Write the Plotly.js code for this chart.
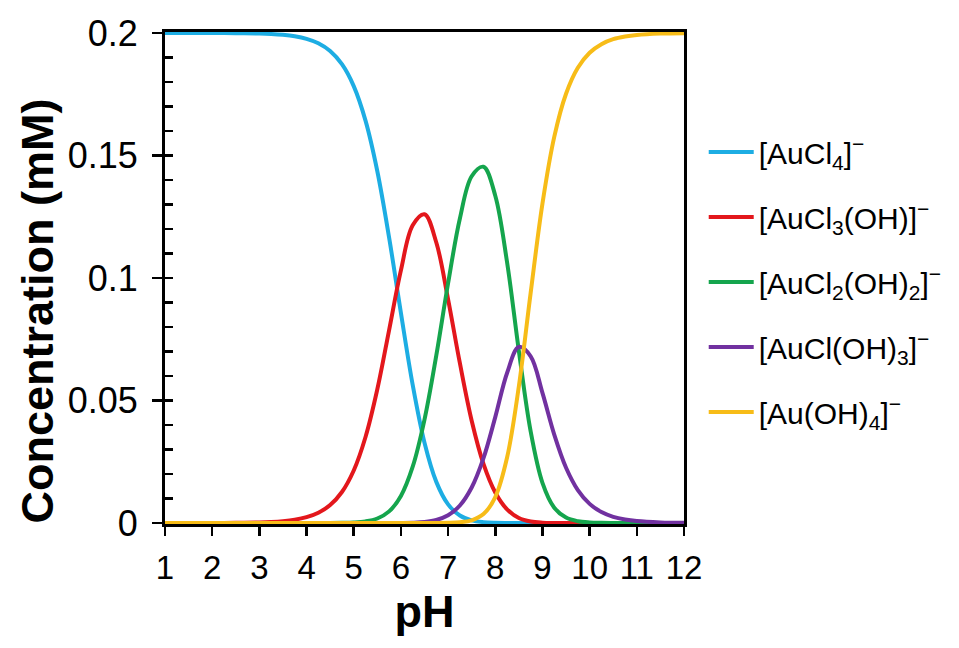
<!DOCTYPE html>
<html><head><meta charset="utf-8">
<script src="https://cdn.plot.ly/plotly-3.0.1.min.js"></script>
<style>body{margin:0;background:#fff;} #chart{width:959px;height:648px;}</style>
</head><body><div id="chart"></div>
<script>
const pH = [1,1.5,2,2.5,3,3.25,3.5,3.75,4,4.25,4.5,4.75,5,5.25,5.5,5.75,6,6.25,6.5,6.75,7,7.25,7.5,7.75,8,8.25,8.5,8.75,9,9.25,9.5,9.75,10,10.25,10.5,10.75,11,11.5,12];
const auCl4 = [0.2,0.19999,0.19998,0.19992,0.19976,0.19957,0.19924,0.19866,0.19762,0.19581,0.19265,0.18726,0.17833,0.16422,0.14357,0.11649,0.08578,0.05637,0.03277,0.01679,0.0076,0.00305,0.0011,0.00036,0.0001,0.00003,0,0,0,0,0,0,0,0,0,0,0,0,0];
const auCl3OH = [0,0.00001,0.00002,0.00008,0.00024,0.00043,0.00076,0.00134,0.00238,0.00419,0.00733,0.01266,0.02144,0.03511,0.05458,0.07876,0.10313,0.1215,0.126,0.1145,0.09131,0.06522,0.04177,0.02413,0.01247,0.00559,0.00207,0.00062,0.00015,0.00003,0.00001,0,0,0,0,0,0,0,0];
const auCl2OH2 = [0,0,0,0,0,0,0,0,0,0.00001,0.00002,0.00008,0.00023,0.00067,0.00185,0.00475,0.01105,0.02297,0.04221,0.06841,0.09785,0.12427,0.14153,0.1454,0.13359,0.10642,0.07024,0.0374,0.01641,0.00627,0.00221,0.00074,0.00024,0.00008,0.00003,0.00001,0,0,0];
const auClOH3 = [0,0,0,0,0,0,0,0,0,0,0,0,0,0,0,0.00001,0.00004,0.00013,0.00043,0.00125,0.00317,0.00715,0.01448,0.02646,0.04323,0.06124,0.07188,0.06805,0.0531,0.0361,0.02257,0.01346,0.00782,0.00448,0.00254,0.00144,0.00081,0.00026,0.00008];
const auOH4 = [0,0,0,0,0,0,0,0,0,0,0,0,0,0,0,0,0,0,0,0.00002,0.00008,0.00031,0.00112,0.00365,0.01061,0.02673,0.0558,0.09393,0.13034,0.15759,0.17522,0.1858,0.19194,0.19544,0.19746,0.19856,0.19919,0.19974,0.19992];

const seriesNames = ['[AuCl<sub>4</sub>]<sup>−</sup>','[AuCl<sub>3</sub>(OH)]<sup>−</sup>','[AuCl<sub>2</sub>(OH)<sub>2</sub>]<sup>−</sup>','[AuCl(OH)<sub>3</sub>]<sup>−</sup>','[Au(OH)<sub>4</sub>]<sup>−</sup>'];
const seriesColors = ['#1DADE3','#E3171C','#15A54D','#7131A0','#F7BC18'];
const seriesData = [auCl4, auCl3OH, auCl2OH2, auClOH3, auOH4];

const traces = seriesData.map((y, i) => ({
  x: pH, y: y, type: 'scatter', mode: 'lines', name: seriesNames[i],
  legendgroup: 'g' + i,
  line: {color: seriesColors[i], width: 4, shape: 'spline', smoothing: 1}
}));

const font = 'Liberation Sans, Arial, sans-serif';
const layout = {
  width: 959, height: 648,
  margin: {l: 165, r: 272, t: 32, b: 124},
  paper_bgcolor: '#fff', plot_bgcolor: '#fff',
  font: {family: font, color: '#000'},
  showlegend: true,
  xaxis: {
    range: [1, 12], tick0: 1, dtick: 1, showgrid: false, zeroline: false,
    showline: true, linecolor: '#000', linewidth: 3, mirror: true,
    ticks: 'outside', ticklen: 9, tickwidth: 2.5, tickcolor: '#000',
    tickfont: {size: 33, family: font, color: '#000'}, ticklabelstandoff: 3,
    title: {text: '<b>pH</b>', font: {size: 45, family: font, color: '#000'}, standoff: 10},
    layer: 'below traces', fixedrange: true
  },
  yaxis: {
    range: [-0.0004, 0.2004], tick0: 0, dtick: 0.05, showgrid: false, zeroline: false,
    showline: true, linecolor: '#000', linewidth: 3, mirror: true,
    ticks: 'outside', ticklen: 10, tickwidth: 2.5, tickcolor: '#000',
    tickfont: {size: 36, family: font, color: '#000'}, ticklabelstandoff: 7,
    minor: {dtick: 0.01, tick0: 0, ticks: 'inside', ticklen: 8, tickwidth: 2.5, tickcolor: '#000', showgrid: false},
    layer: 'below traces', fixedrange: true
  },
  legend: {
    x: 1.038, xanchor: 'left', y: 0.809, yanchor: 'top',
    font: {size: 30, family: font, color: '#000'},
    tracegroupgap: 23, itemwidth: 45, bgcolor: 'rgba(0,0,0,0)', borderwidth: 0
  },
  annotations: [{
    text: '<b>Concentration (mM)</b>', textangle: -90, showarrow: false,
    xref: 'paper', yref: 'paper', x: -0.2457, y: 0.433, xanchor: 'center', yanchor: 'middle',
    font: {size: 45, family: font, color: '#000'}
  }]
};
Plotly.newPlot('chart', traces, layout, {displayModeBar: false, staticPlot: true});
</script>
</body></html>
